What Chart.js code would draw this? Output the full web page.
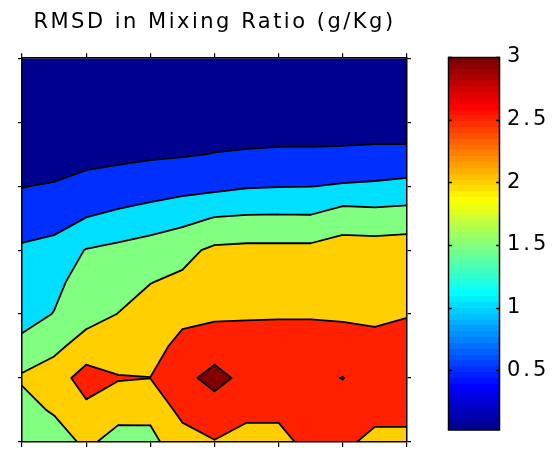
<!DOCTYPE html>
<html>
<head>
<meta charset="utf-8">
<title>RMSD in Mixing Ratio (g/Kg)</title>
<script src="https://cdn.jsdelivr.net/npm/chart.js@4/dist/chart.umd.min.js"></script>
<style>
  html, body { margin: 0; padding: 0; background: #fff; }
  #wrap { position: relative; width: 555px; height: 450px; }
  #contourChart { position: absolute; left: 0; top: 0; }
  #colorbarChart { position: absolute; left: 430px; top: 0; }
</style>
</head>
<body>
<div id="wrap">
  <canvas id="contourChart" width="430" height="450"></canvas>
  <canvas id="colorbarChart" width="125" height="450"></canvas>
</div>
<script>
// Grid nodes (x left to right, y top to bottom)
const xGrid = [1, 2, 3, 4, 5, 6, 7, 8, 9, 10, 11, 12, 13];
const yGrid = [13, 12, 11, 10, 9, 8, 7, 6, 5, 4, 3, 2, 1];

// RMSD values, one row per yGrid entry (top row first)
const rmsd = [
  [0.02, 0.03, 0.04, 0.04, 0.04, 0.04, 0.05, 0.05, 0.05, 0.05, 0.05, 0.05, 0.05],
  [0.14, 0.13, 0.15, 0.16, 0.16, 0.16, 0.16, 0.13, 0.13, 0.13, 0.12, 0.12, 0.12],
  [0.27, 0.19, 0.31, 0.32, 0.33, 0.33, 0.33, 0.20, 0.19, 0.19, 0.18, 0.20, 0.17],
  [0.38, 0.30, 0.44, 0.45, 0.47, 0.465, 0.51, 0.56, 0.59, 0.59, 0.61, 0.635, 0.65],
  [0.49, 0.53, 0.56, 0.60, 0.63, 0.84, 0.88, 0.96, 0.98, 0.99, 1.04, 1.07, 1.12],
  [0.66, 0.75, 1.01, 1.16, 1.37, 1.355, 1.52, 1.56, 1.57, 1.56, 1.78, 1.72, 1.75],
  [1.10, 1.22, 1.52, 1.61, 1.61, 1.87, 2.09, 2.12, 2.12, 2.12, 2.20, 2.22, 2.25],
  [1.24, 1.42, 1.64, 1.78, 1.99, 2.08, 2.24, 2.25, 2.25, 2.25, 2.30, 2.30, 2.35],
  [1.38, 1.51, 1.80, 2.01, 2.16, 2.385, 2.42, 2.45, 2.46, 2.45, 2.42, 2.40, 2.48],
  [1.58, 1.87, 2.22, 2.27, 2.33, 2.63, 2.76, 2.70, 2.70, 2.75, 2.75, 2.65, 2.65],
  [2.08, 2.27, 2.70, 2.525, 2.505, 2.85, 3.17, 2.85, 2.85, 2.90, 3.01, 2.75, 2.70],
  [1.75, 2.08, 2.40, 2.26, 2.11, 2.65, 2.76, 2.62, 2.62, 2.80, 2.80, 2.60, 2.60],
  [1.55, 1.61, 2.15, 1.71, 1.88, 2.27, 2.48, 2.32, 2.32, 2.68, 2.57, 2.41, 2.41]
];

const levels = [0.5, 1, 1.5, 2, 2.5, 3];
const xTicks = [1, 3, 5, 7, 9, 11, 13];
const yTicks = [1, 3, 5, 7, 9, 11, 13];
const colorLimits = [0.02, 3];
const colorbarTicks = [0.5, 1, 1.5, 2, 2.5, 3];
const titleText = 'RMSD in Mixing Ratio (g/Kg)';

const fontFamily = "'DejaVu Sans', Verdana, sans-serif";

// MATLAB jet colormap, 64 entries (i = 1..64)
function jet(i) {
  let r = 0, g = 0, b = 0;
  if (i <= 8) b = (i + 8) / 16;
  else if (i <= 24) { b = 1; g = (i - 8) / 16; }
  else if (i <= 40) { r = (i - 24) / 16; g = 1; b = (40 - i) / 16; }
  else if (i <= 56) { r = 1; g = (56 - i) / 16; }
  else r = (72 - i) / 16;
  return `rgb(${Math.round(r * 255)}, ${Math.round(g * 255)}, ${Math.round(b * 255)})`;
}

function colorFor(value) {
  const f = (value - colorLimits[0]) / (colorLimits[1] - colorLimits[0]);
  return jet(Math.min(64, Math.max(1, Math.floor(f * 64) + 1)));
}

// Letter spacing for the blocky MATLAB-like text
const spacingPlugin = {
  id: 'spacedText',
  beforeDraw(chart, args, opts) {
    if ('letterSpacing' in chart.ctx) chart.ctx.letterSpacing = opts.spacing || '0px';
  }
};

// Filled contours (marching squares on the grid) drawn through the chart scales
const contourPlugin = {
  id: 'contourFill',
  beforeDraw(chart) {
    const { ctx, chartArea: area, scales: { x, y } } = chart;
    const px = xGrid.map(v => x.getPixelForValue(v));
    const py = yGrid.map(v => y.getPixelForValue(v));
    const segments = [];

    ctx.save();
    ctx.beginPath();
    ctx.rect(area.left, area.top, area.width, area.height);
    ctx.clip();

    ctx.fillStyle = colorFor(colorLimits[0]);
    ctx.fillRect(area.left, area.top, area.width, area.height);

    levels.forEach(level => {
      ctx.beginPath();
      for (let j = 0; j < yGrid.length - 1; j++) {
        for (let i = 0; i < xGrid.length - 1; i++) {
          const corners = [[i, j], [i + 1, j], [i + 1, j + 1], [i, j + 1]];
          const poly = [];
          for (let c = 0; c < 4; c++) {
            const [ia, ja] = corners[c];
            const [ib, jb] = corners[(c + 1) % 4];
            const va = rmsd[ja][ia], vb = rmsd[jb][ib];
            if (va >= level) poly.push({ p: [px[ia], py[ja]], corner: true });
            if ((va >= level) !== (vb >= level)) {
              const t = (level - va) / (vb - va);
              poly.push({
                p: [px[ia] + t * (px[ib] - px[ia]), py[ja] + t * (py[jb] - py[ja])],
                corner: false
              });
            }
          }
          if (poly.length < 3) continue;
          poly.forEach((pt, n) => n ? ctx.lineTo(pt.p[0], pt.p[1]) : ctx.moveTo(pt.p[0], pt.p[1]));
          ctx.closePath();
          for (let n = 0; n < poly.length; n++) {
            const a = poly[n], b = poly[(n + 1) % poly.length];
            if (!a.corner && !b.corner) segments.push([a.p, b.p]);
          }
        }
      }
      ctx.fillStyle = colorFor(level);
      ctx.fill();
    });

    // Contour lines
    ctx.beginPath();
    segments.forEach(([a, b]) => {
      ctx.moveTo(a[0], a[1]);
      ctx.lineTo(b[0], b[1]);
    });
    ctx.strokeStyle = '#000';
    ctx.lineWidth = 1.8;
    ctx.lineCap = 'round';
    ctx.stroke();
    ctx.restore();
  }
};

// Frame and inward ticks of the colorbar
const colorbarFramePlugin = {
  id: 'colorbarFrame',
  afterDraw(chart) {
    const { ctx, chartArea: a, scales: { y } } = chart;
    ctx.save();
    ctx.strokeStyle = '#000';
    ctx.lineWidth = 1.5;
    ctx.strokeRect(a.left + 0.5, a.top + 0.5, a.width - 1, a.height - 1);
    ctx.beginPath();
    colorbarTicks.forEach(v => {
      const yy = Math.round(y.getPixelForValue(v)) + 0.5;
      ctx.moveTo(a.left, yy);
      ctx.lineTo(a.left + 4, yy);
      ctx.moveTo(a.right - 4, yy);
      ctx.lineTo(a.right, yy);
    });
    ctx.stroke();
    ctx.restore();
  }
};

function axisOptions(position, ticksList, tickLength) {
  return {
    type: 'linear',
    position: position,
    min: ticksList[0],
    max: ticksList[ticksList.length - 1],
    afterBuildTicks: axis => { axis.ticks = ticksList.map(v => ({ value: v })); },
    ticks: { display: false },
    grid: { drawOnChartArea: false, drawTicks: true, tickLength: tickLength, color: '#000', lineWidth: 1.2 },
    border: { display: true, color: '#000', width: 1.5 }
  };
}

function initContourChart() {
  const canvas = document.getElementById('contourChart');
  if (!canvas) return;

  new Chart(canvas, {
    type: 'scatter',
    data: { datasets: [] },
    options: {
      responsive: false,
      animation: false,
      events: [],
      layout: { padding: { left: 18, right: 19, top: 0, bottom: 3 } },
      scales: {
        x: axisOptions('bottom', xTicks, 5),
        x2: axisOptions('top', xTicks, 5),
        y: axisOptions('left', yTicks, 4),
        y2: axisOptions('right', yTicks, 4)
      },
      plugins: {
        legend: { display: false },
        tooltip: { enabled: false },
        spacedText: { spacing: '2.5px' },
        title: {
          display: true,
          text: titleText,
          color: '#000',
          font: { family: fontFamily, size: 21, weight: 'normal', lineHeight: 1.2 },
          padding: { top: 10, bottom: 18 }
        }
      }
    },
    plugins: [spacingPlugin, contourPlugin]
  });
}

function initColorbar() {
  const canvas = document.getElementById('colorbarChart');
  if (!canvas) return;

  new Chart(canvas, {
    type: 'bar',
    data: {
      labels: ['RMSD'],
      datasets: [{
        data: [colorLimits],
        borderWidth: 0,
        barPercentage: 1,
        categoryPercentage: 1,
        backgroundColor: context => {
          const chart = context.chart;
          if (!chart.chartArea) return jet(32);
          const yScale = chart.scales.y;
          const grad = chart.ctx.createLinearGradient(
            0, yScale.getPixelForValue(colorLimits[0]),
            0, yScale.getPixelForValue(colorLimits[1]));
          for (let i = 0; i < 64; i++) {
            grad.addColorStop(i / 64, jet(i + 1));
            grad.addColorStop((i + 1) / 64, jet(i + 1));
          }
          return grad;
        }
      }]
    },
    options: {
      responsive: false,
      animation: false,
      events: [],
      layout: { padding: { left: 18, right: 0, top: 57, bottom: 7 } },
      scales: {
        x: { display: false },
        y: {
          position: 'right',
          min: colorLimits[0],
          max: colorLimits[1],
          afterBuildTicks: axis => { axis.ticks = colorbarTicks.map(v => ({ value: v })); },
          afterFit: axis => { axis.width = 55; },
          ticks: {
            color: '#000',
            padding: 7,
            font: { family: fontFamily, size: 21 },
            callback: value => String(value)
          },
          grid: { display: false, drawTicks: false },
          border: { display: false }
        }
      },
      plugins: {
        legend: { display: false },
        tooltip: { enabled: false },
        spacedText: { spacing: '3px' }
      }
    },
    plugins: [spacingPlugin, colorbarFramePlugin]
  });
}

document.addEventListener('DOMContentLoaded', function() {
  initContourChart();
  initColorbar();
});
</script>
</body>
</html>
